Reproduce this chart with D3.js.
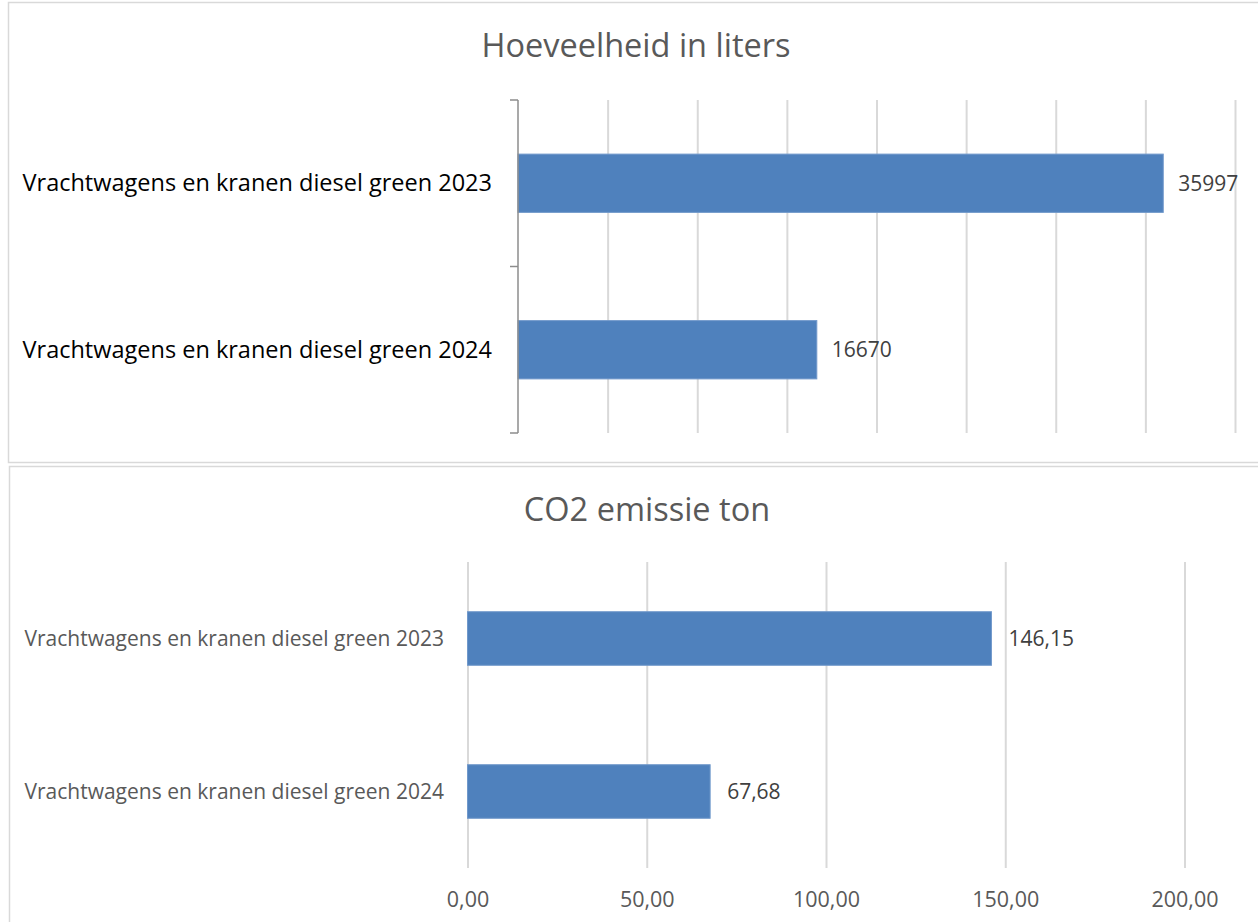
<!DOCTYPE html>
<html>
<head>
<meta charset="utf-8">
<script src="https://cdn.jsdelivr.net/npm/d3@7"></script>
<style>
	body { margin: 0; background: #fff; }
	text { font-family: "Open Sans", sans-serif; }
</style>
</head>
<body>
<script>
//the two charts share the same categories
let categories = ["Vrachtwagens en kranen diesel green 2023", "Vrachtwagens en kranen diesel green 2024"];

//top chart: liters
let litersTitle = "Hoeveelheid in liters";
let litersValues = [35997, 16670];
let litersTicks = [0, 5000, 10000, 15000, 20000, 25000, 30000, 35000, 40000];

//bottom chart: co2 in ton
let co2Title = "CO2 emissie ton";
let co2Values = [146.15, 67.68];
let co2Ticks = [0, 50, 100, 150, 200];

let svg = d3.select("body").append("svg")
	.attr("width", 1258)
	.attr("height", 922);

let barColor = "#4f81bd";
let gridColor = "#d9d9d9";
let comma = f => v => d3.format(f)(v).replace(".", ",");

//chart frames
svg.append("rect")
	.attr("x", 8.5).attr("y", 2.5)
	.attr("width", 1270).attr("height", 460)
	.attr("fill", "none").attr("stroke", gridColor).attr("stroke-width", 1.5);

svg.append("rect")
	.attr("x", 9.5).attr("y", 466.5)
	.attr("width", 1270).attr("height", 480)
	.attr("fill", "none").attr("stroke", gridColor).attr("stroke-width", 1.5);

/*

TOP CHART

*/

let x1 = d3.scaleLinear()
	.domain([0, 40000])
	.range([518, 1235]);

let y1 = d3.scaleBand()
	.domain(categories)
	.range([100, 433])
	.paddingInner(0.65)
	.paddingOuter(0.325);

let topG = svg.append("g");

topG.append("text") //title
	.attr("x", 636)
	.attr("y", 57)
	.attr("text-anchor", "middle")
	.attr("font-size", 32.5)
	.attr("fill", "#595959")
	.text(litersTitle);

topG.append("g") //vertical gridlines
	.attr("transform", `translate(0, ${y1.range()[0]})`)
	.call(d3.axisBottom(x1).tickValues(litersTicks.slice(1)).tickSize(y1.range()[1] - y1.range()[0]).tickFormat(""))
	.call(g => g.select(".domain").remove())
	.call(g => g.selectAll("line").attr("stroke", gridColor).attr("stroke-width", 2));

topG.selectAll(".bar")
	.data(categories)
	.join("rect")
	.attr("class", "bar")
	.attr("x", x1(0))
	.attr("y", d => y1(d))
	.attr("width", (d, i) => x1(litersValues[i]) - x1(0))
	.attr("height", y1.bandwidth())
	.attr("fill", barColor)
	.attr("stroke", "#7199cb")
	.attr("stroke-width", 1);

//category axis with ticks at the slot borders
let slotStart = d => y1(d) - y1.step() * y1.paddingInner() / 2;
let borders = categories.map(slotStart).concat([y1.range()[1]]);

topG.append("line")
	.attr("x1", x1(0)).attr("x2", x1(0))
	.attr("y1", y1.range()[0]).attr("y2", y1.range()[1])
	.attr("stroke", "#8c8c8c").attr("stroke-width", 1.5);

topG.selectAll(".tickmark")
	.data(borders)
	.join("line")
	.attr("class", "tickmark")
	.attr("x1", x1(0) - 8).attr("x2", x1(0))
	.attr("y1", d => d).attr("y2", d => d)
	.attr("stroke", "#8c8c8c").attr("stroke-width", 1.5);

topG.selectAll(".cat")
	.data(categories)
	.join("text")
	.attr("class", "cat")
	.attr("x", 492)
	.attr("y", d => y1(d) + y1.bandwidth() / 2)
	.attr("dy", "0.35em")
	.attr("text-anchor", "end")
	.attr("font-size", 23.5)
	.attr("fill", "#000")
	.text(d => d);

topG.selectAll(".val")
	.data(litersValues)
	.join("text")
	.attr("class", "val")
	.attr("x", d => x1(d) + 15)
	.attr("y", (d, i) => y1(categories[i]) + y1.bandwidth() / 2)
	.attr("dy", "0.35em")
	.attr("font-size", 21)
	.attr("fill", "#404040")
	.text(d => d);

/*

BOTTOM CHART

*/

let x2 = d3.scaleLinear()
	.domain([0, 200])
	.range([467.5, 1184.5]);

let y2 = d3.scaleBand()
	.domain(categories)
	.range([562, 868])
	.paddingInner(0.65)
	.paddingOuter(0.325);

let bottomG = svg.append("g");

bottomG.append("text") //title
	.attr("x", 647)
	.attr("y", 521)
	.attr("text-anchor", "middle")
	.attr("font-size", 32.5)
	.attr("fill", "#595959")
	.text(co2Title);

bottomG.append("g") //gridlines
	.attr("transform", `translate(0, ${y2.range()[0]})`)
	.call(d3.axisBottom(x2).tickValues(co2Ticks).tickSize(y2.range()[1] - y2.range()[0]).tickFormat(""))
	.call(g => g.select(".domain").remove())
	.call(g => g.selectAll("line").attr("stroke", gridColor).attr("stroke-width", 2));

bottomG.append("g") //value axis labels
	.attr("transform", `translate(0, ${y2.range()[1]})`)
	.call(d3.axisBottom(x2).tickValues(co2Ticks).tickSize(0).tickPadding(24).tickFormat(comma(".2f")))
	.call(g => g.select(".domain").remove())
	.call(g => g.selectAll("text")
		.attr("font-family", "'Open Sans', sans-serif")
		.attr("font-size", 21.5)
		.attr("fill", "#595959"));

bottomG.selectAll(".bar")
	.data(categories)
	.join("rect")
	.attr("class", "bar")
	.attr("x", x2(0))
	.attr("y", d => y2(d))
	.attr("width", (d, i) => x2(co2Values[i]) - x2(0))
	.attr("height", y2.bandwidth())
	.attr("fill", barColor)
	.attr("stroke", "#7199cb")
	.attr("stroke-width", 1);

bottomG.selectAll(".cat")
	.data(categories)
	.join("text")
	.attr("class", "cat")
	.attr("x", 444)
	.attr("y", d => y2(d) + y2.bandwidth() / 2)
	.attr("dy", "0.35em")
	.attr("text-anchor", "end")
	.attr("font-size", 21)
	.attr("fill", "#595959")
	.text(d => d);

bottomG.selectAll(".val")
	.data(co2Values)
	.join("text")
	.attr("class", "val")
	.attr("x", d => x2(d) + 17)
	.attr("y", (d, i) => y2(categories[i]) + y2.bandwidth() / 2)
	.attr("dy", "0.35em")
	.attr("font-size", 21)
	.attr("fill", "#404040")
	.text(comma(".2f"));
</script>
</body>
</html>
